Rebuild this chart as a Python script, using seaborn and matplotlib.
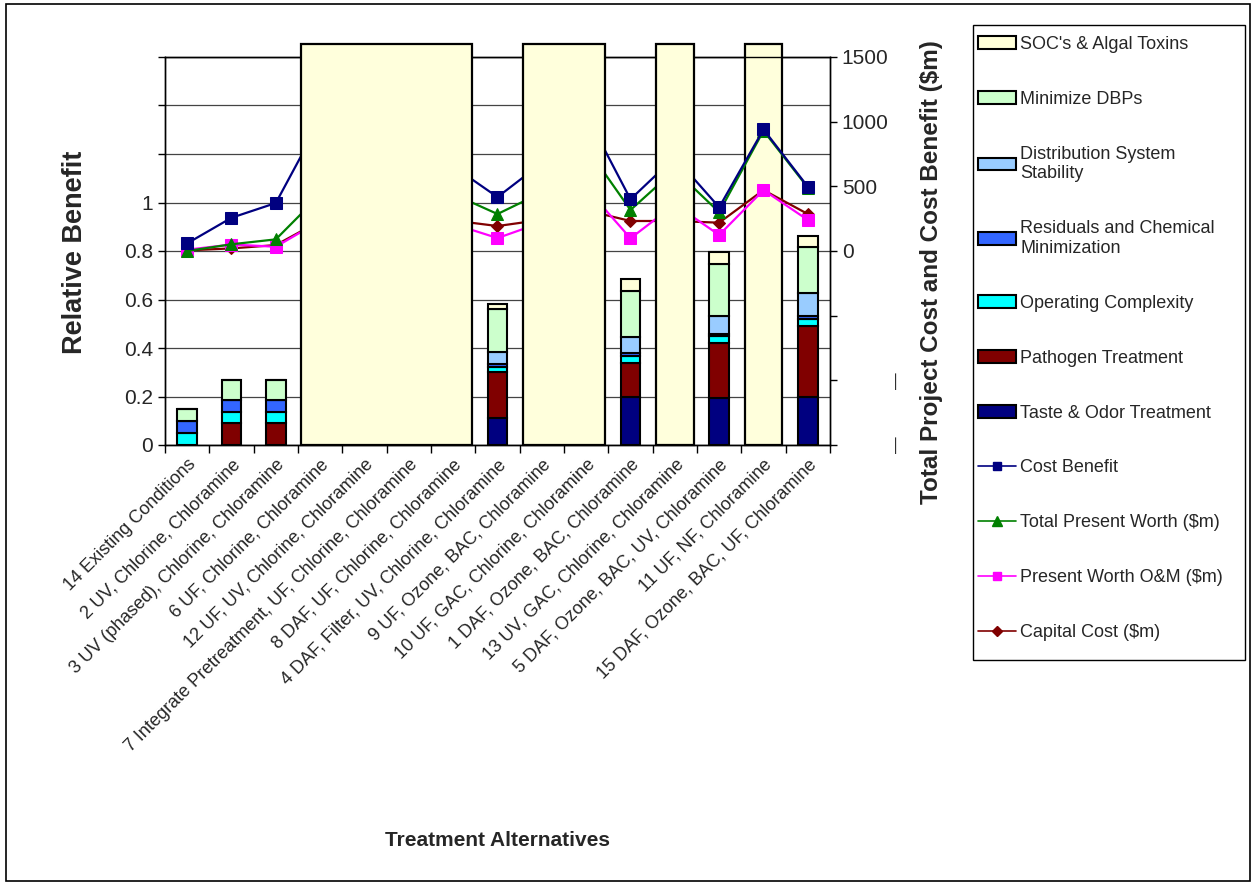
import numpy as np
import seaborn as sns
import matplotlib.pyplot as plt
from matplotlib.patches import Rectangle, Patch
from matplotlib.lines import Line2D

sns.set_style('white')
plt.rcParams['font.family'] = ['Liberation Sans', 'DejaVu Sans']

# --- data -------------------------------------------------------------
alternatives = ['14 Existing Conditions',
                '2 UV, Chlorine, Chloramine',
                '3 UV (phased), Chlorine, Chloramine',
                '6 UF, Chlorine, Chloramine',
                '12 UF, UV, Chlorine, Chloramine',
                '7 Integrate Pretreatment, UF, Chlorine, Chloramine',
                '8 DAF, UF, Chlorine, Chloramine',
                '4 DAF, Filter, UV, Chlorine, Chloramine',
                '9 UF, Ozone, BAC, Chloramine',
                '10 UF, GAC, Chlorine, Chloramine',
                '1 DAF, Ozone, BAC, Chloramine',
                '13 UV, GAC, Chlorine, Chloramine',
                '5 DAF, Ozone, BAC, UV, Chloramine',
                '11 UF, NF, Chloramine',
                '15 DAF, Ozone, BAC, UF, Chloramine']

# relative benefit, stacked bottom -> top
taste_odor   = [0, 0, 0, 0, 0, 0, 0, 0.110, 0, 0, 0.200, 0, 0.195, 0, 0.200]
pathogen     = [0, 0.090, 0.090, 0, 0, 0, 0, 0.190, 0, 0, 0.140, 0, 0.225, 0, 0.290]
operating    = [0.050, 0.045, 0.045, 0, 0, 0, 0, 0.022, 0, 0, 0.029, 0, 0.028, 0, 0.030]
residuals    = [0.050, 0.050, 0.050, 0, 0, 0, 0, 0.011, 0, 0, 0.012, 0, 0.011, 0, 0.014]
distribution = [0, 0, 0, 0, 0, 0, 0, 0.051, 0, 0, 0.066, 0, 0.071, 0, 0.091]
min_dbps     = [0.050, 0.085, 0.085, 0, 0, 0, 0, 0.175, 0, 0, 0.190, 0, 0.216, 0, 0.190]
socs         = [0, 0, 0, 0, 0, 0, 0, 0.021, 0, 0, 0.049, 0, 0.050, 0, 0.048]

# alternatives whose SOC bar runs off the chart (drawn as one merged block)
overflow_groups = [[3, 4, 5, 6], [8, 9], [11], [13]]
overflow_top = 1600

# costs ($m), right axis
cost_benefit = [59, 257, 371, 1008, 1100, 880, 655, 417, 680, 1056, 400, 725, 338, 940, 497]
total_pw     = [0, 52, 90, 435, 520, 480, 440, 286, 452, 804, 317, 626, 300, 930, 490]
pw_om        = [10, 50, 33, 233, 230, 220, 209, 100, 221, 488, 98, 360, 124, 471, 240]
capital      = [5, 20, 46, 233, 240, 238, 236, 193, 241, 314, 232, 232, 219, 471, 286]

stack_names = ['Taste & Odor Treatment', 'Pathogen Treatment', 'Operating Complexity',
               'Residuals and Chemical\nMinimization', 'Distribution System\nStability',
               'Minimize DBPs', "SOC's & Algal Toxins"]
stack_vals = [taste_odor, pathogen, operating, residuals, distribution, min_dbps, socs]
stack_cols = ['#000080', '#800000', '#00FFFF', '#3366FF', '#99CCFF', '#CCFFCC', '#FFFFD9']

line_names = ['Cost Benefit', 'Total Present Worth ($m)', 'Present Worth O&M ($m)', 'Capital Cost ($m)']
line_vals = [cost_benefit, total_pw, pw_om, capital]
line_cols = ['#000080', '#008000', '#FF00FF', '#800000']
line_mk = ['s', '^', 's', 'D']
line_ms = [8, 9, 8, 6]

# --- figure -----------------------------------------------------------
fig = plt.figure(figsize=(12.54, 8.82), dpi=100)
ax = fig.add_axes([165/1254, 1-445/882, 665/1254, 388/882])
x = np.arange(len(alternatives))

bottom = np.zeros(len(x))
for vals, col in zip(stack_vals, stack_cols):
    ax.bar(x, vals, bottom=bottom, width=0.44, color=col, edgecolor='black', linewidth=1.5, zorder=2)
    bottom += np.array(vals)

ax.set_xlim(-0.5, len(x) - 0.5)
ax.set_ylim(0, 1.6)
ax.set_yticks(np.arange(0, 1.61, 0.2))
ax.set_yticklabels(['0', '0.2', '0.4', '0.6', '0.8', '1', '', '', ''])
ax.grid(axis='y', color='#444444', linewidth=0.9)
ax.set_axisbelow(True)
ax.tick_params(axis='y', direction='out', length=5, width=1, labelsize=15, color='black', left=True)

ax.set_xticks(x)
ax.set_xticklabels(alternatives, rotation=45, ha='right', va='top', rotation_mode='anchor', fontsize=13)
ax.set_xticks(np.arange(-0.5, len(x), 1), minor=True)
ax.tick_params(axis='x', which='major', length=0, pad=8)
ax.tick_params(axis='x', which='minor', direction='out', length=6, width=1, color='black', bottom=True)

ax.set_ylabel('Relative Benefit', fontsize=19.5, fontweight='bold')
ax.yaxis.set_label_coords(-0.116, 0.497)
ax.set_xlabel('Treatment Alternatives', fontsize=15, fontweight='bold')
ax.xaxis.set_label_coords(0.5, -0.995)

for sp in ax.spines.values():
    sp.set_color('black')
    sp.set_linewidth(1)

# right axis: costs
ax2 = ax.twinx()
ax2.set_ylim(-1500, 1500)
ax2.set_yticks(np.arange(-1500, 1501, 500))
ax2.set_yticklabels(['', '', '', '0', '500', '1000', '1500'])
ax2.tick_params(axis='y', direction='out', length=5, width=1, labelsize=15, color='black', right=True)
ax2.set_ylabel('Total Project Cost and Cost Benefit ($m)', fontsize=17.5, fontweight='bold', rotation=90)
ax2.yaxis.set_label_coords(1.135, 0.445)
for sp in ax2.spines.values():
    sp.set_color('black')
    sp.set_linewidth(1)

# leftover minus signs of the clipped negative labels
for yv in [-1000, -1500]:
    ax2.text(1.102, yv, '\u2014', transform=ax2.get_yaxis_transform(), rotation=90,
             ha='center', va='center', fontsize=12)

# draw in reverse so Cost Benefit sits on top
for name, vals, col, mk, ms in list(zip(line_names, line_vals, line_cols, line_mk, line_ms))[::-1]:
    sns.lineplot(x=x, y=vals, ax=ax2, color=col, marker=mk, markersize=ms,
                 markeredgecolor=col, linewidth=1.6, legend=False, zorder=3)

for i, grp in enumerate(overflow_groups):
    ax2.bar(np.mean(grp), overflow_top + 1500, bottom=-1500, width=len(grp) - 0.15,
            color='#FFFFDC', edgecolor='black', linewidth=1.6, clip_on=False,
            zorder=1 if i == len(overflow_groups) - 1 else 4)

# legend
handles = [Patch(facecolor=c, edgecolor='black', linewidth=1.5, label=n)
           for n, c in zip(stack_names[::-1], stack_cols[::-1])]
handles += [Line2D([], [], color=c, marker=m, markersize=s * 0.8, markeredgecolor=c, linewidth=1.2, label=n)
            for n, c, m, s in zip(line_names, line_cols, line_mk, line_ms)]
leg = fig.legend(handles=handles, loc='upper left',
                 bbox_to_anchor=(967/1254, 1-660/882, 278/1254, 635/882),
                 fontsize=13, frameon=False, labelspacing=2.1, handlelength=2.1,
                 handletextpad=0.25, borderpad=0.6, borderaxespad=0)

fig.patches.append(Rectangle((973/1254, 1-660/882), 272/1254, 635/882, transform=fig.transFigure,
                             fill=False, edgecolor='black', linewidth=1))
fig.patches.append(Rectangle((6/1254, 1/882), 1244/1254, 877/882, transform=fig.transFigure,
                             fill=False, edgecolor='black', linewidth=1.2))

fig.savefig('out.png', dpi=100)
